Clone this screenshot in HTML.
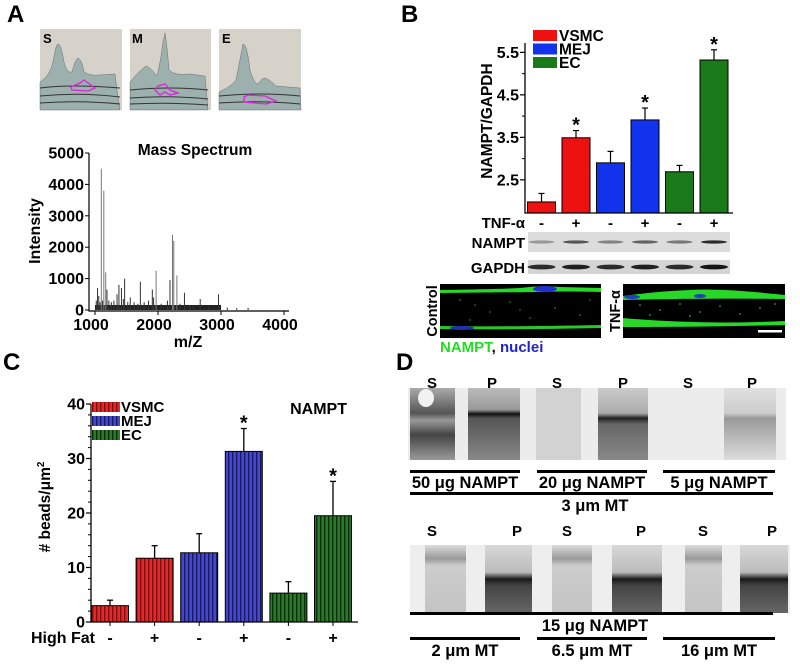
<!DOCTYPE html>
<html><head><meta charset="utf-8"><style>
html,body{margin:0;padding:0;background:#fff;}
svg{display:block;font-family:"Liberation Sans",Arial,sans-serif;font-weight:bold;}
</style></head><body>
<svg id="fig" width="800" height="664" viewBox="0 0 800 664" xmlns="http://www.w3.org/2000/svg">
<defs>
<pattern id="stR" width="4" height="10" patternUnits="userSpaceOnUse"><rect width="4" height="10" fill="#e8262a"/><rect width="1.4" height="10" fill="#7a1010"/></pattern>
<pattern id="stB" width="4" height="10" patternUnits="userSpaceOnUse"><rect width="4" height="10" fill="#4448d0"/><rect width="1.4" height="10" fill="#1a1a60"/></pattern>
<pattern id="stG" width="4" height="10" patternUnits="userSpaceOnUse"><rect width="4" height="10" fill="#2a7a2a"/><rect width="1.4" height="10" fill="#0c300c"/></pattern>
<linearGradient id="blotP" x1="0" y1="0" x2="0" y2="1"><stop offset="0" stop-color="#bbb"/><stop offset="0.3" stop-color="#999"/><stop offset="0.36" stop-color="#111"/><stop offset="0.42" stop-color="#555"/><stop offset="1" stop-color="#888"/></linearGradient>
<linearGradient id="blotS" x1="0" y1="0" x2="0" y2="1"><stop offset="0" stop-color="#aaa"/><stop offset="0.35" stop-color="#555"/><stop offset="0.45" stop-color="#999"/><stop offset="0.65" stop-color="#444"/><stop offset="1" stop-color="#999"/></linearGradient>
<linearGradient id="blotP2" x1="0" y1="0" x2="0" y2="1"><stop offset="0" stop-color="#ccc"/><stop offset="0.35" stop-color="#aaa"/><stop offset="0.42" stop-color="#222"/><stop offset="0.5" stop-color="#666"/><stop offset="1" stop-color="#888"/></linearGradient>
<linearGradient id="blotP3" x1="0" y1="0" x2="0" y2="1"><stop offset="0" stop-color="#e0e0e0"/><stop offset="0.35" stop-color="#ccc"/><stop offset="0.42" stop-color="#999"/><stop offset="1" stop-color="#ddd"/></linearGradient>
<linearGradient id="blotB" x1="0" y1="0" x2="0" y2="1"><stop offset="0" stop-color="#d8d8d8"/><stop offset="0.4" stop-color="#bbb"/><stop offset="0.5" stop-color="#1a1a1a"/><stop offset="0.6" stop-color="#444"/><stop offset="1" stop-color="#666"/></linearGradient>
<linearGradient id="blotBS" x1="0" y1="0" x2="0" y2="1"><stop offset="0" stop-color="#ddd"/><stop offset="0.2" stop-color="#999"/><stop offset="0.3" stop-color="#ccc"/><stop offset="1" stop-color="#c4c4c4"/></linearGradient>
</defs>

<!-- Panel A -->
<text x="7" y="22" font-size="24">A</text>
<g>
<rect x="40" y="29" width="82" height="81" fill="#d6d2ca"/>
<path d="M40 110 L40 82 Q50 76 53 62 Q56 44 58 44 Q61 44 64 62 Q67 74 72 72 Q75 60 78 58 Q82 60 84 72 Q90 76 100 75 L115 74 L117 90 L120 110Z" fill="#9cb0ae" stroke="#556" stroke-width="0.4"/>
<path d="M40 88 Q70 84 120 88 M40 96 Q80 92 120 97 M40 103 Q80 100 120 104" stroke="#333" stroke-width="1" fill="none"/>
<path d="M71 87 L80 83 L84 80 L95 88 L88 91 L72 90Z" fill="none" stroke="#e020e0" stroke-width="1.3"/>
<text x="43" y="43" font-size="13">S</text>
</g>
<g>
<rect x="130" y="29" width="81" height="81" fill="#d6d2ca"/>
<path d="M130 110 L130 82 Q140 70 146 66 Q151 68 157 76 Q161 60 163 42 L165 33 Q167 45 169 70 Q175 76 190 74 L205 76 L208 110Z" fill="#9cb0ae" stroke="#556" stroke-width="0.4"/>
<path d="M130 90 Q170 86 208 90 M130 98 Q170 95 208 99 M130 104 Q170 102 208 105" stroke="#333" stroke-width="1" fill="none"/>
<path d="M155 90 L158 86 L165 84 L170 90 L178 93 L170 95 L165 92 L160 95Z" fill="none" stroke="#e020e0" stroke-width="1.3"/>
<text x="132" y="43" font-size="13">M</text>
</g>
<g>
<rect x="219" y="29" width="82" height="81" fill="#d6d2ca"/>
<path d="M219 110 L219 92 Q232 86 236 80 Q240 60 243 44 Q247 44 250 70 Q254 84 258 84 Q262 78 265 78 Q270 80 276 86 L300 88 L301 110Z" fill="#9cb0ae" stroke="#556" stroke-width="0.4"/>
<path d="M219 96 Q260 92 300 96 M219 103 Q260 100 300 104" stroke="#333" stroke-width="1" fill="none"/>
<path d="M244 97 L248 95 L265 96 L276 101 L266 104 L244 102Z" fill="none" stroke="#e020e0" stroke-width="1.3"/>
<text x="222" y="43" font-size="13">E</text>
</g>
<g id="ms">
<text x="195" y="155" font-size="15.5" text-anchor="middle">Mass Spectrum</text>
<text transform="translate(40,231) rotate(-90)" font-size="16" text-anchor="middle">Intensity</text>
<text x="188" y="347" font-size="16" text-anchor="middle">m/Z</text>
</g>

<!-- Panel B -->
<text x="401" y="22" font-size="24">B</text>
<g id="bchart">
<text transform="translate(492,121) rotate(-90)" font-size="15.5" text-anchor="middle">NAMPT/GAPDH</text>
<text x="525" y="228" font-size="15" text-anchor="end">TNF-α</text>
</g>
<g>
<rect x="528" y="232" width="202" height="20" fill="#dcdcdc"/>
<rect x="528" y="260" width="202" height="14" fill="#d4d4d4"/>
<text x="525" y="248" font-size="15" text-anchor="end">NAMPT</text>
<text x="525" y="273" font-size="15" text-anchor="end">GAPDH</text>
<g id="bands"></g>
</g>
<g>
<rect x="440" y="284" width="161" height="54" fill="#000"/>
<path d="M440 290 Q500 289 520 288 Q540 285 560 287 L601 288 L601 292 Q560 291 540 292 L440 293Z" fill="#28d828"/>
<ellipse cx="545" cy="289" rx="12" ry="3" fill="#2030d0"/>
<path d="M440 326 Q500 327 601 325 L601 328 Q520 330 440 329Z" fill="#28c828"/>
<ellipse cx="462" cy="328" rx="12" ry="2" fill="#2030b0"/>
<g fill="#20a020"><circle cx="460" cy="300" r="0.8"/><circle cx="475" cy="305" r="0.8"/><circle cx="490" cy="312" r="0.8"/><circle cx="510" cy="302" r="0.8"/><circle cx="530" cy="318" r="0.8"/><circle cx="555" cy="308" r="0.8"/><circle cx="580" cy="315" r="0.8"/><circle cx="470" cy="320" r="0.8"/><circle cx="520" cy="310" r="0.8"/><circle cx="590" cy="300" r="0.8"/></g>
<text transform="translate(437,311) rotate(-90)" font-size="14.5" text-anchor="middle">Control</text>
</g>
<g>
<rect x="623" y="284" width="162" height="54" fill="#000"/>
<path d="M623 296 Q660 291 690 290 Q720 288 785 295 L785 299 Q700 298 623 300Z" fill="#28d828"/>
<ellipse cx="632" cy="297" rx="8" ry="2" fill="#2040c0"/>
<ellipse cx="700" cy="296" rx="6" ry="2" fill="#2040c0"/>
<path d="M623 318 Q700 325 785 321 L785 325 Q700 327 623 327Z" fill="#28d828"/>
<g fill="#20b020"><circle cx="640" cy="305" r="0.9"/><circle cx="660" cy="310" r="0.9"/><circle cx="680" cy="304" r="0.9"/><circle cx="700" cy="312" r="0.9"/><circle cx="720" cy="306" r="0.9"/><circle cx="740" cy="314" r="0.9"/><circle cx="760" cy="308" r="0.9"/><circle cx="690" cy="316" r="0.9"/><circle cx="650" cy="315" r="0.9"/><circle cx="775" cy="304" r="0.9"/></g>
<rect x="758" y="330" width="24" height="2.5" fill="#fff"/>
<text transform="translate(620,311) rotate(-90)" font-size="14.5" text-anchor="middle">TNF-α</text>
</g>
<text x="440" y="352" font-size="15"><tspan fill="#22dd22">NAMPT</tspan><tspan fill="#000">, </tspan><tspan fill="#2222cc">nuclei</tspan></text>

<!-- Panel C -->
<text x="3" y="370" font-size="24">C</text>
<g id="cchart">
<text transform="translate(50,507) rotate(-90)" font-size="15.5" text-anchor="middle"># beads/μm<tspan font-size="10" dy="-6">2</tspan></text>
<text x="95" y="643" font-size="16" text-anchor="end">High Fat</text>
<text x="347" y="414" font-size="16" text-anchor="end">NAMPT</text>
</g>

<!-- Panel D -->
<text x="396" y="370" font-size="24">D</text>
<g>
<rect x="408" y="388" width="378" height="72" fill="#ececec"/>
<rect x="410" y="388" width="45" height="72" fill="url(#blotS)"/>
<ellipse cx="426" cy="398" rx="8" ry="9" fill="#f2f2f2"/>
<rect x="468" y="388" width="52" height="72" fill="url(#blotP)"/>
<rect x="536" y="388" width="45" height="72" fill="#d2d2d2"/>
<rect x="598" y="388" width="50" height="72" fill="url(#blotP2)"/>
<rect x="724" y="388" width="52" height="72" fill="url(#blotP3)"/>
</g>
<g>
<rect x="410" y="545" width="380" height="68" fill="#eee"/>
<rect x="425" y="545" width="41" height="68" fill="url(#blotBS)"/>
<rect x="485" y="545" width="47" height="68" fill="url(#blotB)"/>
<rect x="552" y="545" width="40" height="68" fill="url(#blotBS)"/>
<rect x="612" y="545" width="50" height="68" fill="url(#blotB)"/>
<rect x="685" y="545" width="37" height="68" fill="url(#blotBS)"/>
<rect x="740" y="545" width="48" height="68" fill="url(#blotB)"/>
</g>
<g font-size="15" text-anchor="middle">
<text x="432" y="388">S</text><text x="492" y="388">P</text><text x="557" y="388">S</text><text x="623" y="388">P</text><text x="688" y="388">S</text><text x="752" y="388">P</text>
<text x="432" y="536">S</text><text x="517" y="536">P</text><text x="567" y="536">S</text><text x="641" y="536">P</text><text x="703" y="536">S</text><text x="772" y="536">P</text>
<g fill="#000">
<rect x="410" y="470" width="110" height="3"/><rect x="537" y="470" width="110" height="3"/><rect x="663" y="470" width="112" height="3"/>
<rect x="410" y="492" width="363" height="3"/>
<rect x="410" y="612" width="363" height="3"/>
<rect x="410" y="637" width="110" height="3"/><rect x="537" y="637" width="110" height="3"/><rect x="663" y="637" width="112" height="3"/>
</g>
<g font-size="16.5">
<text x="465" y="488">50 μg NAMPT</text>
<text x="592" y="488">20 μg NAMPT</text>
<text x="719" y="488">5 μg NAMPT</text>
<text x="595" y="511">3 μm MT</text>
<text x="595" y="631">15 μg NAMPT</text>
<text x="465" y="656">2 μm MT</text>
<text x="592" y="656">6.5 μm MT</text>
<text x="719" y="656">16 μm MT</text>
</g>
</g>
</svg>
<script>
// Mass spectrum data
const msMz = [1020,1040,1060,1080,1100,1120,1140,1170,1190,1220,1260,1300,1350,1380,1420,1450,1470,1520,1560,1620,1680,1720,1780,1850,1910,1930,1970,2050,2150,2190,2230,2250,2300,2350,2420,2500,2560,2670,2800,2960,3100,3250,3430];
const msInt = [300,700,450,250,4500,300,3800,1200,650,300,250,300,500,800,700,350,1000,250,400,250,200,900,250,300,650,400,1250,200,300,950,2400,2200,1100,200,550,150,120,350,100,500,80,60,70];
const msYTicks = [0,1000,2000,3000,4000,5000];
const msXTicks = [1000,2000,3000,4000];
// Panel B data
const bGroups = ['-','+','-','+','-','+'];
const bValues = [1.98,3.49,2.9,3.91,2.69,5.32];
const bErrors = [0.2,0.17,0.27,0.28,0.15,0.24];
const bSig = [false,true,false,true,false,true];
const bTicks = [2.5,3.5,4.5,5.5];
const bNampt = [0.3,0.6,0.4,0.55,0.45,0.8];
const bGapdh = [0.8,0.85,0.8,0.85,0.8,0.9];
// Panel C data
const cGroups = ['-','+','-','+','-','+'];
const cValues = [3.0,11.7,12.7,31.3,5.3,19.5];
const cErrors = [1.0,2.3,3.5,4.2,2.1,6.3];
const cSig = [false,false,false,true,false,true];
const cTicks = [0,10,20,30,40];
const seriesNames = ['VSMC','MEJ','EC'];

const NS='http://www.w3.org/2000/svg';
function mk(parent,tag,attrs,txt){const e=document.createElementNS(NS,tag);for(const k in attrs)e.setAttribute(k,attrs[k]);if(txt!==undefined)e.textContent=txt;parent.appendChild(e);return e;}

// Mass spectrum
(function(){
  const g=document.getElementById('ms');
  const x=v=>95+(v-1000)*0.063, y=v=>310-v*0.0314;
  const ax=mk(g,'path',{d:'M89 153 L89 311 L289 311',stroke:'#000','stroke-width':1.2,fill:'none'});
  
  
  msYTicks.forEach(t=>{
    mk(g,'line',{x1:85,x2:89,y1:y(t),y2:y(t),stroke:'#000'});
    const tl=mk(g,'text',{x:84,y:y(t)+5.5,'font-size':16,'text-anchor':'end'},String(t));
    
    
  });
  msXTicks.forEach(t=>{
    mk(g,'line',{x1:x(t),x2:x(t),y1:311,y2:315,stroke:'#000'});
    const tl=mk(g,'text',{x:x(t)-4,y:330,'font-size':16,'text-anchor':'middle'},String(t));
    
    
  });
  mk(g,'rect',{x:x(1000),y:305,width:x(3000)-x(1000),height:5,fill:'#222'});
  msMz.forEach((m,i)=>{
    const l=mk(g,'line',{x1:x(m),x2:x(m),y1:310,y2:y(msInt[i]),stroke:msInt[i]>1000?'#777':'#333','stroke-width':1});
    
    
  });
})();

// Panel B chart
(function(){
  const g=document.getElementById('bchart');
  const y=v=>213-(v-1.72)*42.5, xc=i=>541.5+i*34.5, bw=28;
  const cols=['#ee1111','#1133ee','#1a7a1a'];
  bValues.forEach((v,i)=>{
    const c=cols[Math.floor(i/2)], cx=xc(i);
    mk(g,'line',{x1:cx,x2:cx,y1:y(v),y2:y(v+bErrors[i]),stroke:'#000','stroke-width':1.2});
    mk(g,'line',{x1:cx-3,x2:cx+3,y1:y(v+bErrors[i]),y2:y(v+bErrors[i]),stroke:'#000','stroke-width':1.2});
    const r=mk(g,'rect',{x:cx-bw/2,y:y(v),width:bw,height:213-y(v),fill:c,stroke:'#000','stroke-width':1});
    
    
    if(bSig[i]){const s=mk(g,'text',{x:cx,y:y(v+bErrors[i])+1,'font-size':20,'text-anchor':'middle'},'*');
      
      }
    const gl=mk(g,'text',{x:cx,y:228,'font-size':15,'text-anchor':'middle'},bGroups[i]);
    
    
    const band=document.getElementById('bands');
    mk(band,'ellipse',{cx:cx,cy:242,rx:13,ry:1.6,fill:'#000',opacity:bNampt[i]});
    mk(band,'ellipse',{cx:cx,cy:267,rx:14,ry:2.4,fill:'#000',opacity:bGapdh[i]});
  });
  mk(g,'path',{d:'M525 43 L525 213 L733 213',stroke:'#000','stroke-width':1.3,fill:'none'});
  bTicks.forEach(t=>{
    mk(g,'line',{x1:520,x2:525,y1:y(t),y2:y(t),stroke:'#000','stroke-width':1.2});
    if(t<5.5) mk(g,'line',{x1:522,x2:525,y1:y(t+0.5),y2:y(t+0.5),stroke:'#000'});
    const tl=mk(g,'text',{x:519,y:y(t)+5.5,'font-size':16,'text-anchor':'end'},t.toFixed(1));
    
    
  });
  seriesNames.forEach((n,k)=>{
    const sw=mk(g,'rect',{x:533,y:30+k*13.5,width:24,height:11,fill:cols[k]});
    
    
    const t=mk(g,'text',{x:559,y:41+k*13.5,'font-size':15.5},n);
    
    
  });
})();

// Panel C chart
(function(){
  const g=document.getElementById('cchart');
  const y=v=>622-v*5.45, xc=i=>110+i*44.6, bw=37;
  const pats=['url(#stR)','url(#stB)','url(#stG)'];
  cValues.forEach((v,i)=>{
    const cx=xc(i);
    mk(g,'line',{x1:cx,x2:cx,y1:y(v),y2:y(v+cErrors[i]),stroke:'#000','stroke-width':1.3});
    mk(g,'line',{x1:cx-3,x2:cx+3,y1:y(v+cErrors[i]),y2:y(v+cErrors[i]),stroke:'#000','stroke-width':1.3});
    const r=mk(g,'rect',{x:cx-bw/2,y:y(v),width:bw,height:622-y(v),fill:pats[Math.floor(i/2)],stroke:'#000','stroke-width':1});
    
    
    if(cSig[i]){const s=mk(g,'text',{x:cx,y:y(v+cErrors[i])+1,'font-size':20,'text-anchor':'middle'},'*');
      
      }
    mk(g,'line',{x1:cx,x2:cx,y1:622,y2:626,stroke:'#000'});
    const gl=mk(g,'text',{x:cx,y:643,'font-size':16,'text-anchor':'middle'},cGroups[i]);
    
    
  });
  mk(g,'path',{d:'M91 404 L91 622 L358 622',stroke:'#000','stroke-width':1.3,fill:'none'});
  cTicks.forEach(t=>{
    mk(g,'line',{x1:86,x2:91,y1:y(t),y2:y(t),stroke:'#000','stroke-width':1.2});
    if(t<40) for(let k=1;k<5;k++) mk(g,'line',{x1:88,x2:91,y1:y(t+k*2),y2:y(t+k*2),stroke:'#000'});
    const tl=mk(g,'text',{x:85,y:y(t)+5.5,'font-size':16,'text-anchor':'end'},String(t));
    
    
  });
  seriesNames.forEach((n,k)=>{
    const sw=mk(g,'rect',{x:92,y:402+k*14,width:28,height:10,fill:pats[k]});
    
    
    const t=mk(g,'text',{x:121,y:412+k*14,'font-size':15},n);
    
    
  });
})();
</script>
</body></html>
